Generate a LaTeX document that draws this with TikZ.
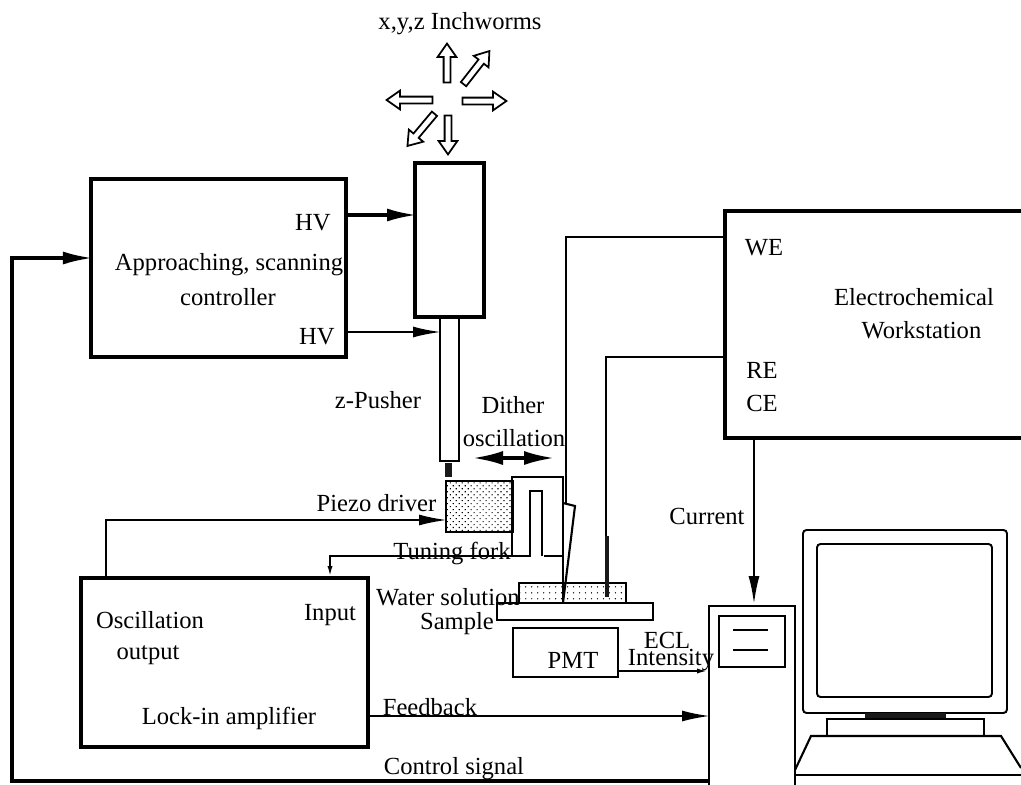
\documentclass[tikz,border=0pt]{standalone}
\usepackage{fontspec}
\setmainfont{Liberation Serif}
\usepackage{tikz}
\usetikzlibrary{shapes,arrows.meta,positioning,patterns.meta}

\begin{document}
\begin{tikzpicture}[
  txt/.style={inner sep=0pt, font=\fontsize{7}{8}\selectfont},
  heavybox/.style={draw, rectangle, line width=1pt, inner sep=0pt, outer sep=0pt},
  thinbox/.style={draw, rectangle, line width=.55pt, inner sep=0pt, outer sep=0pt},
  solidbox/.style={fill=black!90, draw=none, rectangle, inner sep=0pt, outer sep=0pt},
  screenbox/.style={thinbox, rounded corners=1pt},
  inchworm/.style={draw, single arrow, line width=.5pt, inner xsep=0pt, inner ysep=.025cm, minimum width=.18cm,
                   single arrow head extend=.06cm, single arrow tip angle=70},
  wire/.style={line width=.6pt},
  sig/.style={-{Latex[length=.28cm,width=.11cm]}, line width=.6pt, shorten >=-.01cm},
  bigsig/.style={-{Latex[length=.3cm,width=.13cm]}, line width=1pt, shorten >=-.02cm},
  tiny/.style={-{Latex[length=.12cm,width=.05cm]}, line width=.6pt}
]
\useasboundingbox (0,0) rectangle (10.21,7.84);

% inchworm directions
\node[txt] (IW) at (4.60,7.60) {x,y,z Inchworms};
\node[inchworm, minimum height=.39cm, rotate=90] (AU) at (4.47,7.185) {};
\node[inchworm, minimum height=.42cm, rotate=52] (AN) at (4.75,7.145) {};
\node[inchworm, minimum height=.44cm, rotate=0] (AE) at (4.82,6.83) {};
\node[inchworm, minimum height=.46cm, rotate=180] (AW) at (4.12,6.84) {};
\node[inchworm, minimum height=.42cm, rotate=230] (AS) at (4.225,6.56) {};
\node[inchworm, minimum height=.39cm, rotate=270] (AD) at (4.48,6.515) {};

% scanner head
\node[heavybox, minimum width=.69cm, minimum height=1.54cm] (HD) at (4.495,5.44) {};
\node[thinbox, minimum width=.19cm, minimum height=1.44cm] (ZP) at (4.495,3.95) {};
\node[solidbox, minimum width=.07cm, minimum height=.14cm] (TP) at (4.485,3.14) {};
\node[thinbox, line width=.7pt, minimum width=.67cm, minimum height=.51cm,
      pattern={Dots[radius=.22pt,distance=1.2pt,angle=45]}] (PZ) at (4.795,2.775) {};

% controller
\node[heavybox, minimum width=2.55cm, minimum height=1.78cm] (CT) at (2.185,5.16) {};
\node[txt] (HA) at (3.13,5.61) {HV};
\node[txt] (HB) at (3.17,4.47) {HV};
\node[txt] (CA) at (2.29,5.19) {Approaching, scanning};
\node[txt] (CB) at (2.28,4.87) {controller};

% electrochemical workstation
\node[heavybox, minimum width=3.15cm, minimum height=2.27cm] (EW) at (8.825,4.595) {};
\node[txt] (WE) at (7.64,5.36) {WE};
\node[txt] (RE) at (7.62,4.14) {RE};
\node[txt] (CE) at (7.62,3.81) {CE};
\node[txt] (EA) at (9.14,4.87) {Electrochemical};
\node[txt] (EB) at (9.215,4.54) {Workstation};

% lock-in amplifier
\node[heavybox, minimum width=2.87cm, minimum height=1.69cm] (LI) at (2.245,1.215) {};
\node[txt] (OA) at (1.50,1.64) {Oscillation};
\node[txt] (OB) at (1.48,1.29) {output};
\node[txt] (IN) at (3.30,1.69) {Input};
\node[txt] (LA) at (2.29,.66) {Lock-in amplifier};

% sample stage
\node[thinbox, line width=.7pt, minimum width=1.07cm, minimum height=.2cm,
      pattern={Dots[radius=.2pt,distance=1.7pt]}] (WS) at (5.725,1.91) {};
\node[thinbox, line width=.7pt, fill=white, minimum width=1.56cm, minimum height=.17cm] (SP) at (5.75,1.725) {};
\node[thinbox, line width=.7pt, minimum width=1.05cm, minimum height=.49cm] (PM) at (5.655,1.315) {};
\node[solidbox, minimum width=.04cm, minimum height=.61cm] (EL) at (6.07,2.175) {};

% computer
\node[thinbox, minimum width=.86cm, minimum height=1.94cm] (TW) at (7.52,.81) {};
\node[thinbox, minimum width=.66cm, minimum height=.51cm] (DP) at (7.52,1.425) {};
\node[screenbox, minimum width=2.04cm, minimum height=1.83cm] (MO) at (9.05,1.625) {};
\node[screenbox, minimum width=1.75cm, minimum height=1.53cm] (SC) at (9.045,1.635) {};
\node[solidbox, minimum width=.81cm, minimum height=.06cm] (ST) at (9.055,.68) {};
\node[thinbox, minimum width=1.57cm, minimum height=.17cm] (BS) at (9.055,.565) {};
\coordinate (KL) at (7.95,.14);
\coordinate (KR) at (10.21,.16);
\draw[wire] (KL) -- (8.11,.48) -- (10.01,.48) -- (KR);
\draw[wire] (7.95,.09) -- (10.21,.09);
\draw[wire] (7.33,1.54) -- (7.68,1.54);
\draw[wire] (7.33,1.34) -- (7.68,1.34);

% labels round the probe
\node[txt] (ZL) at (3.78,3.84) {z-Pusher};
\node[txt] (DA) at (5.13,3.79) {Dither};
\node[txt] (DB) at (5.14,3.46) {oscillation};
\node[txt] (PL) at (3.765,2.81) {Piezo driver};
\node[txt] (TF) at (4.52,2.31) {Tuning fork};
\node[txt] (WL) at (4.48,1.87) {Water solution};
\node[txt] (SL) at (4.57,1.60) {Sample};
\node[txt] (PT) at (5.73,1.24) {PMT};
\node[txt] (EC) at (6.67,1.44) {ECL};
\node[txt] (IT) at (6.71,1.24) {Intensity};
\node[txt] (CU) at (7.07,2.68) {Current};
\node[txt] (FB) at (4.30,.77) {Feedback};
\node[txt] (CS) at (4.54,.15) {Control signal};

% connection heights
\coordinate (hvup) at (3.8,5.69);
\coordinate (hvlow) at (3.8,4.52);
\coordinate (drv) at (1.06,2.64);
\coordinate (inp) at (3.30,2.28);
\coordinate (forkl) at (5.12,2.28);
\coordinate (forkt) at (5.12,3.07);
\coordinate (forkr) at (5.63,3.07);
\coordinate (wetop) at (5.66,5.47);
\coordinate (weend) at (5.66,2.81);
\coordinate (retop) at (6.06,4.27);
\coordinate (fback) at (5,.68);
\coordinate (pmtl) at (6.5,1.13);
\coordinate (curr) at (7.54,3);
\coordinate (ctlb) at (.12,.03);
\coordinate (ctlt) at (.12,5.26);
\coordinate (dl) at (4.73,3.26);
\coordinate (dr) at (5.54,3.26);

% Relationships
\draw[bigsig] (CT.east |- hvup) -- (HD.west |- hvup);
\draw[sig] (CT.east |- hvlow) -- (ZP.west |- hvlow);
\draw[sig] (LI.north -| drv) -- (drv) -- (PZ.west |- drv);
\draw[tiny] (forkl) -- (inp) -- (inp |- LI.north);
\draw[wire] (forkl) -- (forkt) -- (forkr) -- (forkr |- WS.south);
\draw[wire] (forkl) -- (5.30,2.28) -- (5.30,2.93) -- (5.42,2.93) -- (5.42,2.28);
\draw[wire] (5.44,2.28) -- (forkr |- inp);
\draw[wire] (EW.west |- wetop) -- (wetop) -- (weend);
\draw[wire] (forkr |- weend) -- (5.75,2.78) -- (forkr |- WS.south);
\draw[wire] (EW.west |- retop) -- (retop) -- (retop |- EL.north);
\draw[sig] (LI.east |- fback) -- (TW.west |- fback);
\draw[tiny] (PM.east |- pmtl) -- (TW.west |- pmtl);
\draw[sig, shorten >=.02cm] (EW.south -| curr) -- (TW.north -| curr);
\draw[bigsig] (TW.west |- ctlb) -- (ctlb) -- (ctlt) -- (CT.west |- ctlt);
\draw[{Latex[length=.3cm,width=.14cm]}-{Latex[length=.3cm,width=.14cm]}, line width=.9pt] (dl) -- (dr);
\end{tikzpicture}
\end{document}
